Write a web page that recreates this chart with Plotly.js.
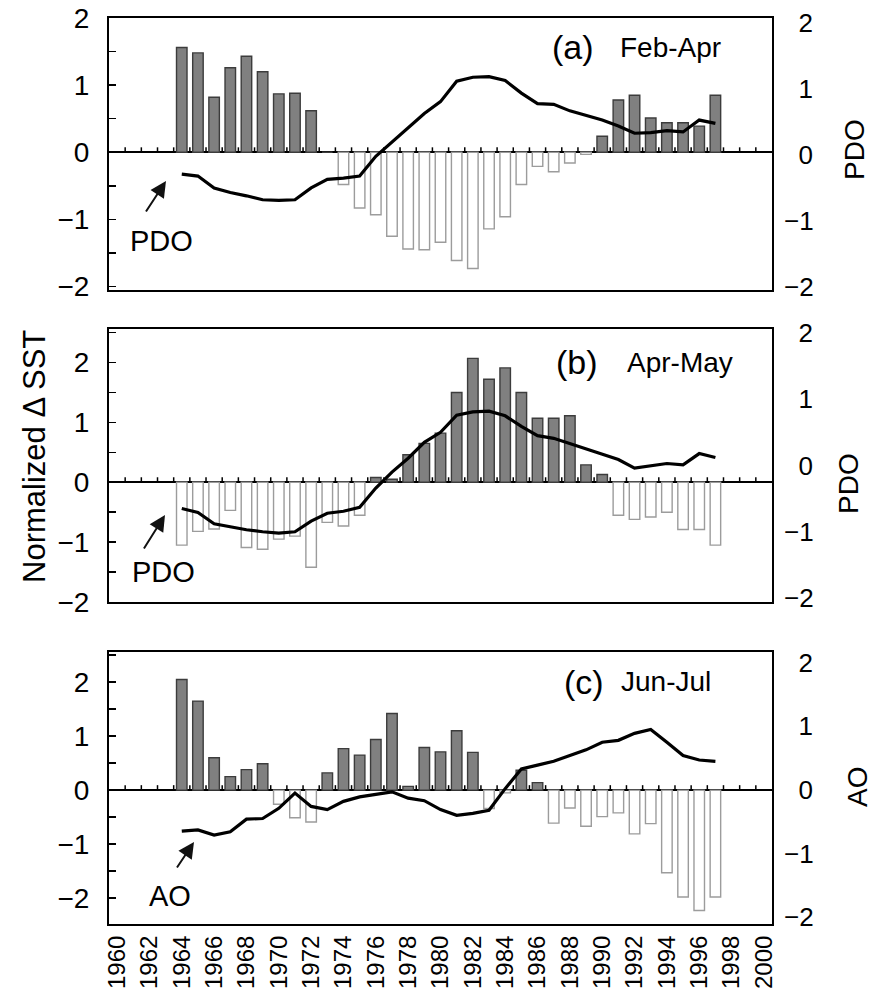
<!DOCTYPE html>
<html><head><meta charset="utf-8">
<script src="https://cdn.plot.ly/plotly-3.0.1.min.js"></script>
<style>html,body{margin:0;padding:0;background:#fff}#chart{width:872px;height:993px}</style>
</head><body><div id="chart"></div>
<script>
// ---- data ----
const years = [1964,1965,1966,1967,1968,1969,1970,1971,1972,1973,1974,1975,1976,1977,1978,1979,1980,
               1981,1982,1983,1984,1985,1986,1987,1988,1989,1990,1991,1992,1993,1994,1995,1996,1997];
const sstFebApr = [1.56,1.48,0.82,1.26,1.43,1.20,0.87,0.88,0.62,0.0,-0.48,-0.83,-0.93,-1.25,-1.44,-1.45,-1.34,
                   -1.61,-1.73,-1.14,-0.96,-0.48,-0.21,-0.29,-0.16,-0.03,0.24,0.78,0.85,0.51,0.44,0.44,0.39,0.85];
const pdoFebApr = [-0.29,-0.32,-0.50,-0.57,-0.62,-0.68,-0.69,-0.68,-0.50,-0.37,-0.35,-0.32,-0.02,0.20,0.41,0.63,0.81,
                   1.12,1.18,1.19,1.13,0.94,0.78,0.77,0.67,0.60,0.53,0.44,0.33,0.34,0.37,0.35,0.53,0.48];
const sstAprMay = [-1.05,-0.82,-0.78,-0.47,-1.09,-1.12,-0.95,-0.90,-1.42,-0.67,-0.73,-0.55,0.08,0.05,0.46,0.65,0.82,
                   1.50,2.07,1.72,1.91,1.50,1.07,1.07,1.11,0.29,0.13,-0.55,-0.62,-0.58,-0.50,-0.79,-0.79,-1.05];
const pdoAprMay = [-0.65,-0.71,-0.88,-0.93,-0.97,-1.00,-1.02,-1.00,-0.84,-0.72,-0.69,-0.63,-0.34,-0.10,0.11,0.35,0.50,
                   0.76,0.81,0.82,0.75,0.59,0.45,0.41,0.33,0.24,0.17,0.09,-0.04,0.00,0.03,0.01,0.18,0.12];
const sstJunJul = [2.05,1.65,0.60,0.25,0.38,0.49,-0.26,-0.51,-0.59,0.32,0.77,0.65,0.94,1.42,0.07,0.79,0.71,
                   1.10,0.70,-0.34,-0.05,0.37,0.14,-0.61,-0.33,-0.67,-0.49,-0.42,-0.81,-0.62,-1.53,-1.98,-2.23,-1.98];
const aoJunJul  = [-0.65,-0.63,-0.71,-0.66,-0.46,-0.45,-0.29,-0.05,-0.26,-0.31,-0.18,-0.11,-0.07,-0.03,-0.13,-0.17,-0.31,
                   -0.40,-0.37,-0.32,0.02,0.33,0.39,0.45,0.54,0.63,0.75,0.78,0.89,0.95,0.75,0.54,0.47,0.45];
const xTickYears = [1960,1962,1964,1966,1968,1970,1972,1974,1976,1978,1980,1982,1984,1986,1988,1990,1992,1994,1996,1998,2000];
const leftTicksA = [-2,-1.5,-1,-0.5,0,0.5,1,1.5,2];
const leftTicksB = [-2,-1.5,-1,-0.5,0,0.5,1,1.5,2,2.5];
const leftTicksC = [-2.5,-2,-1.5,-1,-0.5,0,0.5,1,1.5,2,2.5];
const rightTicks = [-2,-1,0,1,2];
const panelLabels = ['(a)','(b)','(c)'];
const seasonLabels = ['Feb-Apr','Apr-May','Jun-Jul'];
const indexNames = ['PDO','PDO','AO'];

// ---- layout geometry ----
const W=872,H=993,L=109,R=100,T=18,B=69;
const px = v => (v - L)/(W-L-R);
const py = v => (H-B-v)/(H-T-B);
const FONT = 'Liberation Sans, Arial, Helvetica, sans-serif';
const fmt = v => (v<0 ? '\u2212'+(-v) : String(v));
const XR = [1959.5, 2000.5];
// minor tick marks sitting on the zero line, between the yearly bars
const zeroTickX = [];
for (let t = XR[0] + 1; t < XR[1]; t += 1) zeroTickX.push(t);

const panels = [
  {sst:sstFebApr, idx:pdoFebApr, top:18,  bot:290, left:[-2.05,2.0],  right:[-2.05,2.08], lt:leftTicksA,
   lab:{px:573,py:47}, sea:{px:618,py:48}, arrow:{hx:166,hy:181,ax:-21,ay:32}, name:{px:161,py:241}, rt:{px:855,py:150}},
  {sst:sstAprMay, idx:pdoAprMay, top:329, bot:602, left:[-2.0,2.56],  right:[-2.06,2.06], lt:leftTicksB,
   lab:{px:577,py:362}, sea:{px:625,py:363}, arrow:{hx:165,hy:515,ax:-22,ay:35}, name:{px:163,py:572}, rt:{px:849,py:484}},
  {sst:sstJunJul, idx:aoJunJul,  top:652, bot:924, left:[-2.48,2.56], right:[-2.11,2.17], lt:leftTicksC,
   lab:{px:584,py:682}, sea:{px:619,py:681}, arrow:{hx:194,hy:842,ax:-18,ay:27}, name:{px:170,py:896}, rt:{px:857,py:787}}
];

const data = [];
const layout = {
  width:W, height:H, margin:{l:L,r:R,t:T,b:B}, showlegend:false,
  paper_bgcolor:'#fff', plot_bgcolor:'#fff', font:{family:FONT, color:'#000'},
  annotations:[], shapes:[], bargap:0
};

panels.forEach((p,i) => {
  const n = i+1;
  const xa = 'xaxis'+(n===1?'':n), ya = 'yaxis'+(n===1?'':n);
  const xr = 'x'+(n===1?'':n), yr = 'y'+(n===1?'':n);
  const yR = 'y'+(n+3);
  const dom = [py(p.bot), py(p.top)];

  data.push({type:'bar', x:years, y:p.sst, xaxis:xr, yaxis:yr, width:0.65,
    marker:{color:p.sst.map(v=>v>=0?'#808080':'#ffffff'),
            line:{color:p.sst.map(v=>v>=0?'#3c3c3c':'#9c9c9c'), width:1.4}},
    hoverinfo:'skip'});
  data.push({type:'scatter', mode:'lines', x:years, y:p.idx, xaxis:xr, yaxis:yR,
    line:{color:'#000', width:3.2}, hoverinfo:'skip'});

  layout[xa] = {range:XR, domain:[0,1], anchor:yr, showgrid:false, zeroline:false,
    showline:true, mirror:true, linecolor:'#000', linewidth:2,
    ticks:'', showticklabels: n===3,
    tickmode:'array', tickvals:xTickYears, ticktext:xTickYears.map(String),
    tickangle:-90, tickfont:{size:24, family:FONT, color:'#000'}, ticklabelstandoff:0};
  layout[ya] = {range:p.left, domain:dom, anchor:xr, showgrid:false,
    zeroline:true, zerolinecolor:'#000', zerolinewidth:2,
    showline:true, mirror:true, linecolor:'#000', linewidth:2,
    ticks:'inside', ticklen:7, tickwidth:1.5, tickcolor:'#000',
    tickmode:'array', tickvals:p.lt, ticktext:p.lt.map(v=>Number.isInteger(v)?fmt(v):''),
    tickfont:{size:28, family:FONT, color:'#000'}, ticklabelstandoff:12};
  layout['yaxis'+(n+3)] = {range:p.right, overlaying:yr, side:'right', anchor:xr,
    showgrid:false, zeroline:false, showline:false, ticks:'',
    tickmode:'array', tickvals:rightTicks,
    ticktext:rightTicks.map(v=> v<0 ? fmt(v) : '\u2007'+fmt(v)),
    tickfont:{size:26, family:FONT, color:'#000'}, ticklabelstandoff:11};

  // upward tick marks on the zero line (pixel-sized, anchored at y = 0)
  zeroTickX.forEach(t => layout.shapes.push({type:'line', xref:xr, yref:yr, layer:'above',
    x0:t, x1:t, ysizemode:'pixel', yanchor:0, y0:0, y1:5, line:{color:'#000', width:1.5}}));

  const A = layout.annotations;
  A.push({xref:'paper', yref:'paper', x:px(p.lab.px), y:py(p.lab.py), text:panelLabels[i],
    showarrow:false, xanchor:'center', yanchor:'middle', font:{size:34, family:FONT, color:'#000'}});
  A.push({xref:'paper', yref:'paper', x:px(p.sea.px), y:py(p.sea.py), text:seasonLabels[i],
    showarrow:false, xanchor:'left', yanchor:'middle', font:{size:28, family:FONT, color:'#000'}});
  A.push({xref:'paper', yref:'paper', x:px(p.arrow.hx), y:py(p.arrow.hy), text:'',
    showarrow:true, ax:p.arrow.ax, ay:p.arrow.ay, arrowhead:2, arrowsize:1.6, arrowwidth:2, arrowcolor:'#111'});
  A.push({xref:'paper', yref:'paper', x:px(p.name.px), y:py(p.name.py), text:indexNames[i],
    showarrow:false, xanchor:'center', yanchor:'middle', font:{size:29, family:FONT, color:'#000'}});
  A.push({xref:'paper', yref:'paper', x:px(p.rt.px), y:py(p.rt.py), text:indexNames[i], textangle:-90,
    showarrow:false, xanchor:'center', yanchor:'middle', font:{size:28, family:FONT, color:'#000'}});
});

layout.annotations.push({xref:'paper', yref:'paper', x:px(34), y:py(457), text:'Normalized \u0394 SST', textangle:-90,
  showarrow:false, xanchor:'center', yanchor:'middle', font:{size:31, family:FONT, color:'#000'}});

Plotly.newPlot('chart', data, layout, {displayModeBar:false, staticPlot:true});
</script>
</body></html>
